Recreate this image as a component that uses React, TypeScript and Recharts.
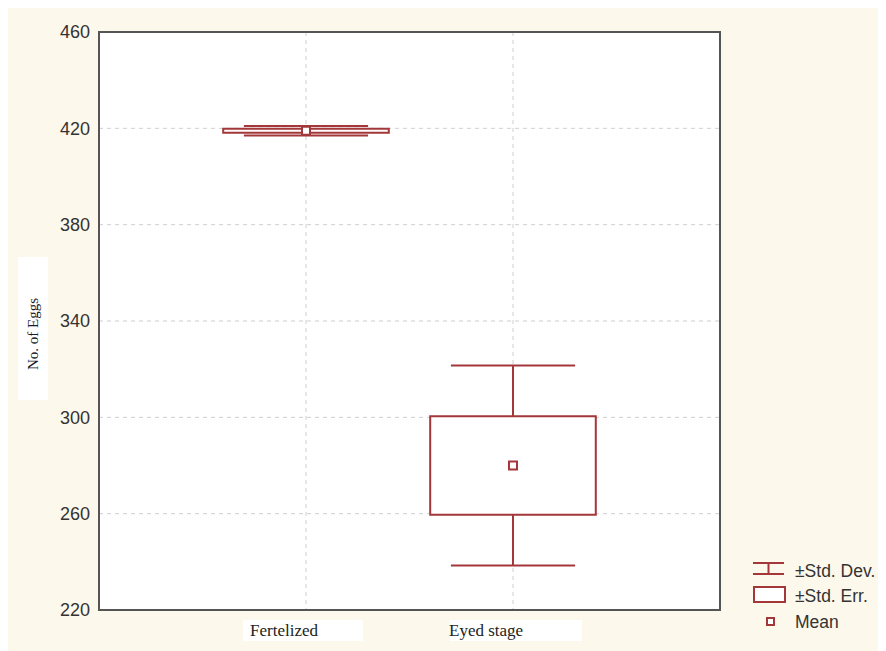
import React from "react";
import {
  ComposedChart,
  XAxis,
  YAxis,
  CartesianGrid,
  Scatter,
  ReferenceArea,
  ReferenceLine,
  Legend,
} from "recharts";

// ---- data ----
const categories = ["Fertelized", "Eyed stage"];
const means = [419, 280];
const stdDev = [2.0, 41.5];
const stdErr = [0.85, 20.5];
const yTicks = [220, 260, 300, 340, 380, 420, 460];
const xPositions = [1, 2];
const legendLabels = ["±Std. Dev.", "±Std. Err.", "Mean"];

// ---- style constants ----
const RED = "#a3373a";
const BOX_HALF = 0.4;
const CAP_HALF = 0.3;
const BG = "#FDF8EC";

const data = categories.map((c, i) => ({ x: xPositions[i], mean: means[i], name: c }));

const XTick = (props: any) => {
  const { x, y, payload } = props;
  const idx = xPositions.indexOf(payload.value);
  const label = categories[idx] ?? "";
  return (
    <g>
      <rect x={x - 63} y={y + 10} width={idx === 0 ? 120 : 132} height={21} fill="#fff" />
      <text
        x={x - (idx === 0 ? 56 : 64)}
        y={y + 26}
        textAnchor="start"
        fontFamily="'Liberation Serif', 'DejaVu Serif', serif"
        fontSize={17}
        fill="#222"
      >
        {label}
      </text>
    </g>
  );
};

const YLabel = (props: any) => {
  const vb = props.viewBox || { x: 0, y: 24, width: 91, height: 578 };
  const cy = vb.y + vb.height / 2 + 13;
  const cx = 25;
  return (
    <g>
      <rect x={10} y={cy - 77} width={30} height={143} fill="#fff" />
      <text
        x={cx}
        y={cy}
        transform={`rotate(-90 ${cx} ${cy})`}
        textAnchor="middle"
        dominantBaseline="central"
        fontFamily="'Liberation Serif', 'DejaVu Serif', serif"
        fontSize={15}
        fill="#1a1a2a"
      >
        No. of Eggs
      </text>
    </g>
  );
};

const LegendContent = () => (
  <svg width={140} height={85} style={{ display: "block" }}>
    <g stroke={RED} strokeWidth={2} fill="none">
      <line x1={8} x2={39} y1={11} y2={11} />
      <line x1={8} x2={39} y1={22} y2={22} />
      <line x1={23.5} x2={23.5} y1={11} y2={22} />
      <rect x={9} y={35} width={31} height={15} fill="#fff" />
      <rect x={22} y={66} width={7} height={7} fill="#fff" />
    </g>
    <g fontFamily="'Liberation Sans', Arial, sans-serif" fontSize={17.5} fill="#333">
      <text x={50} y={19} dominantBaseline="central">{legendLabels[0]}</text>
      <text x={50} y={44} dominantBaseline="central">{legendLabels[1]}</text>
      <text x={50} y={70} dominantBaseline="central">{legendLabels[2]}</text>
    </g>
  </svg>
);

const MeanShape = (p: any) => (
  <rect x={p.cx - 4} y={p.cy - 4} width={8} height={8} fill="#fff" stroke={RED} strokeWidth={2} />
);

export default function App() {
  return (
    <div style={{ width: 876, height: 643, background: BG, position: "relative" }}>
      <ComposedChart
        width={876}
        height={643}
        data={data}
        margin={{ top: 24, right: 164, bottom: 0, left: 0 }}
      >
        <CartesianGrid stroke="#cfcfcf" strokeDasharray="4 4" fill="#fff" fillOpacity={1} />
        <XAxis
          type="number"
          dataKey="x"
          domain={[0, 3]}
          ticks={xPositions}
          axisLine={false}
          tickLine={false}
          tickSize={0}
          tickMargin={0}
          height={41}
          tick={<XTick />}
          interval={0}
        />
        <YAxis
          type="number"
          domain={[220, 460]}
          ticks={yTicks}
          axisLine={false}
          tickLine={false}
          tickSize={0}
          tickMargin={9}
          width={91}
          tick={{ fontSize: 18, fill: "#333", fontFamily: "'Liberation Sans', Arial, sans-serif" }}
          label={<YLabel />}
          interval={0}
        />
        {data.map((d, i) => (
          <ReferenceArea
            key={`box-${i}`}
            x1={d.x - BOX_HALF}
            x2={d.x + BOX_HALF}
            y1={means[i] - stdErr[i]}
            y2={means[i] + stdErr[i]}
            fill="#fff"
            fillOpacity={1}
            stroke={RED}
            strokeWidth={2}
            ifOverflow="visible"
          />
        ))}
        {data.map((d, i) => (
          <ReferenceLine
            key={`capT-${i}`}
            segment={[
              { x: d.x - CAP_HALF, y: means[i] + stdDev[i] },
              { x: d.x + CAP_HALF, y: means[i] + stdDev[i] },
            ]}
            stroke={RED}
            strokeWidth={2}
            ifOverflow="visible"
          />
        ))}
        {data.map((d, i) => (
          <ReferenceLine
            key={`capB-${i}`}
            segment={[
              { x: d.x - CAP_HALF, y: means[i] - stdDev[i] },
              { x: d.x + CAP_HALF, y: means[i] - stdDev[i] },
            ]}
            stroke={RED}
            strokeWidth={2}
            ifOverflow="visible"
          />
        ))}
        {data.map((d, i) => (
          <ReferenceLine
            key={`wT-${i}`}
            segment={[
              { x: d.x, y: means[i] + stdErr[i] },
              { x: d.x, y: means[i] + stdDev[i] },
            ]}
            stroke={RED}
            strokeWidth={2}
            ifOverflow="visible"
          />
        ))}
        {data.map((d, i) => (
          <ReferenceLine
            key={`wB-${i}`}
            segment={[
              { x: d.x, y: means[i] - stdErr[i] },
              { x: d.x, y: means[i] - stdDev[i] },
            ]}
            stroke={RED}
            strokeWidth={2}
            ifOverflow="visible"
          />
        ))}
        <ReferenceArea
          x1={0}
          x2={3}
          y1={220}
          y2={460}
          fill="none"
          stroke="#555"
          strokeWidth={2}
          ifOverflow="visible"
        />
        <Scatter dataKey="mean" shape={<MeanShape />} isAnimationActive={false} />
        <Legend
          layout="vertical"
          align="center"
          verticalAlign="middle"
          content={<LegendContent />}
          wrapperStyle={{ position: "absolute", left: 737, top: 544, width: 140, height: 85 }}
        />
      </ComposedChart>
    </div>
  );
}
